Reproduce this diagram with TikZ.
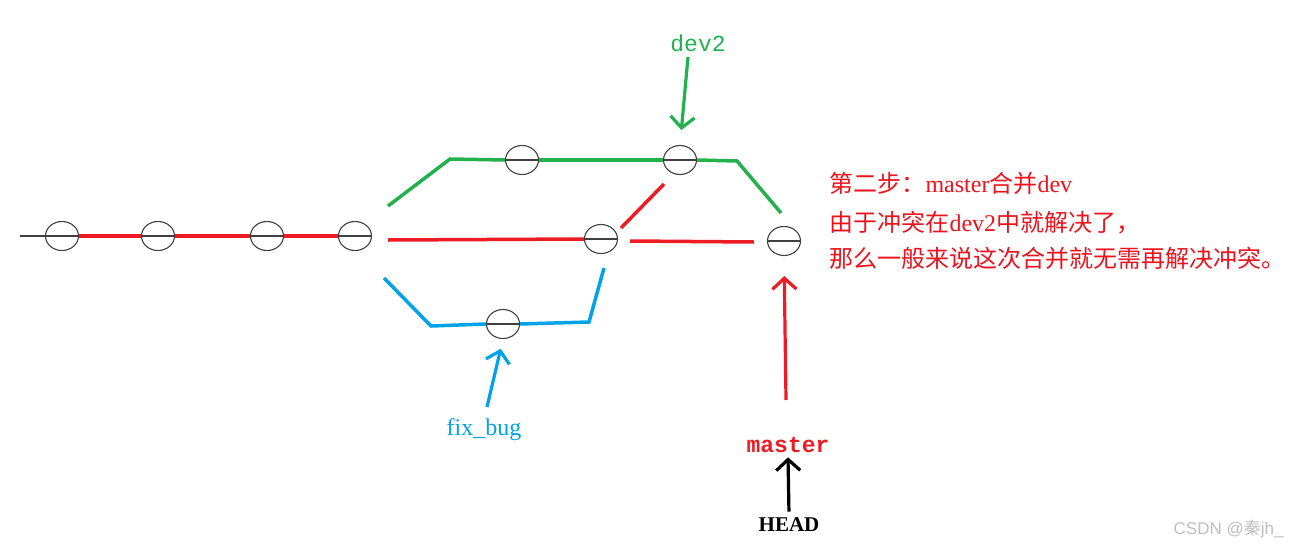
\documentclass[tikz,border=0pt]{standalone}
\usepackage{fontspec}
\setmainfont{Liberation Serif}
\newfontfamily\cjk{Noto Sans CJK SC}
\newfontfamily\monof{Liberation Mono}
\newfontfamily\csdnf{Liberation Sans}
\usetikzlibrary{shapes.geometric,arrows.meta}
\definecolor{pred}{RGB}{237,28,36}
\definecolor{pgreen}{RGB}{34,177,76}
\definecolor{pblue}{RGB}{0,162,232}
\definecolor{tred}{RGB}{235,20,30}
\tikzset{
  commit/.style={ellipse,draw=black!75,line width=1.1pt,minimum width=33pt,minimum height=29pt,inner sep=0pt,
    path picture={\draw[black!75,line width=1.4pt] (path picture bounding box.west) -- (path picture bounding box.east);}},
  redl/.style={pred,line width=3.5pt},
  greenl/.style={pgreen,line width=3.5pt,line join=miter},
  bluel/.style={pblue,line width=3.5pt},
  parrow/.style={line width=3.2pt,-{Straight Barb[length=11pt,width=24pt,line width=3.2pt]}},
  cjktext/.style={tred,anchor=west,font=\fontsize{24}{24}\selectfont},
}
\begin{document}
\begin{tikzpicture}[x=1pt,y=-1pt]
\useasboundingbox[fill=white] (0,0) rectangle (1299,552);
% main line
\coordinate (start) at (20,236);
\node[commit] (c1) at (62,236) {};
\node[commit] (c2) at (158,236) {};
\node[commit] (c3) at (267,236) {};
\node[commit] (c4) at (355,236) {};
\draw[black!75,line width=1.3pt] (start) -- (c1.west);
\draw[redl] (c1.east) -- (c2.west);
\draw[redl] (c2.east) -- (c3.west);
\draw[redl] (c3.east) -- (c4.west);
% green branch dev2
\node[commit] (g1) at (522,160) {};
\node[commit] (g2) at (680,160) {};
\coordinate (gs) at (388,206);
\coordinate (gb1) at (450,159);
\coordinate (gb2) at (737,161);
\coordinate (ge) at (781,213);
\draw[greenl] (gs) -- (gb1) -- (g1.west);
\draw[greenl] (g1.east) -- (g2.west);
\draw[greenl] (g2.east) -- (gb2) -- (ge);
% red middle
\node[commit] (r1) at (601,239) {};
\node[commit] (m) at (784,241) {};
\coordinate (rs) at (388,240);
\draw[redl] (rs) -- (r1.west);
\coordinate (rd1) at (621,228);
\coordinate (rd2) at (664,184);
\draw[redl] (rd1) -- (rd2);
\coordinate (rm1) at (630,241);
\coordinate (rm2) at (754,242);
\draw[redl] (rm1) -- (rm2);
% blue branch
\node[commit] (b1) at (503,324) {};
\coordinate (bs) at (384,278);
\coordinate (bb1) at (431,326);
\coordinate (bb2) at (589,322);
\coordinate (be) at (604,268);
\draw[bluel] (bs) -- (bb1) -- (b1.west);
\draw[bluel] (b1.east) -- (bb2) -- (be);
% labels
\node[pgreen,font=\monof\fontsize{23}{23}\selectfont] (dev2) at (698,43) {dev2};
\coordinate (dt) at (688,57);
\draw[parrow,pgreen,shorten >=15pt] (dt) -- (g2.north);
\node[pblue,font=\fontsize{24}{24}\selectfont] (fix) at (484,430) {fix\_bug};
\coordinate (ft) at (487,407);
\draw[parrow,pblue,shorten >=10pt] (ft) -- (b1.south);
\node[pred,font=\monof\bfseries\fontsize{23}{23}\selectfont] (master) at (788,445) {master};
\coordinate (mt) at (786,400);
\draw[parrow,pred,shorten >=20pt] (mt) -- (m.south);
\node[black,font=\bfseries\fontsize{21}{21}\selectfont] (head) at (789,525) {HEAD};
\draw[parrow,black,shorten <=3pt,shorten >=1pt] (head.north) -- (master.south);
% text
\node[cjktext] (t1) at (826,183) {{\cjk 第二步：}master{\cjk 合并}dev};
\node[cjktext] (t2) at (826,223) {{\cjk 由于冲突在}dev2{\cjk 中就解决了，}};
\node[cjktext] (t3) at (826,258) {\cjk 那么一般来说这次合并就无需再解决冲突。};
% watermark
\node[black!25,anchor=east,font=\csdnf\fontsize{17}{17}\selectfont] (wm) at (1287,529) {CSDN @{\cjk 秦}jh\_};
\end{tikzpicture}
\end{document}
